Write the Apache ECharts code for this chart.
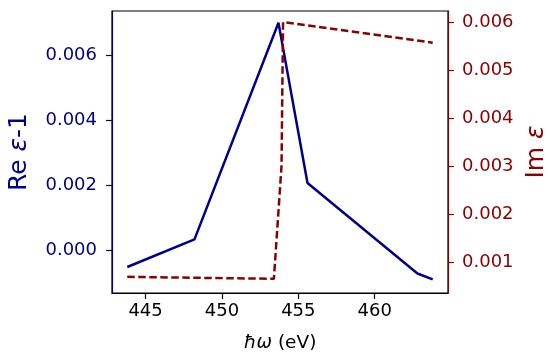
<!DOCTYPE html>
<html><head><meta charset="utf-8">
<script src="https://cdn.jsdelivr.net/npm/echarts@6/dist/echarts.min.js"></script>
<style>html,body{margin:0;padding:0;background:#fff}#c{width:550px;height:360px}</style>
</head><body><div id="c"></div>
<script>
// Re(eps)-1 series: [energy eV, value]
const reX = [443.8, 448.2, 453.7, 455.6, 462.8, 463.8];
const reY = [-0.00052, 0.00033, 0.00699, 0.00206, -0.00072, -0.00090];
// Im(eps) series
const imX = [443.8, 453.4, 453.9, 454.0, 463.8];
const imY = [0.00069, 0.00065, 0.00300, 0.00600, 0.00557];
const xTicks = [445, 450, 455, 460];
const reTicks = [0, 0.002, 0.004, 0.006];
const imTicks = [0.001, 0.002, 0.003, 0.004, 0.005, 0.006];

const BLUE = '#00008B', RED = '#8B0000';
const FONT = 'DejaVu Sans';
const chart = echarts.init(document.getElementById('c'));
chart.setOption({
  animation: false,
  grid: {left: 112, right: 102, top: 11, bottom: 67, show: true, borderColor: '#000', borderWidth: 1.2, backgroundColor: 'transparent', containLabel: false, outerBoundsMode: 'none'},
  xAxis: {
    type: 'value', min: 442.8, max: 464.8,
    name: '{i|ħω} (eV)', nameLocation: 'middle', nameGap: 41,
    nameTextStyle: {fontFamily: FONT, fontSize: 18.5, color: '#000',
      rich: {i: {fontFamily: FONT, fontSize: 18.5, fontStyle: 'italic', color: '#000'}}},
    axisLine: {show: true, onZero: false, lineStyle: {color: '#000', width: 1.2}},
    axisTick: {show: true, length: 6, lineStyle: {color: '#000', width: 1.2}, customValues: xTicks},
    axisLabel: {fontFamily: FONT, fontSize: 18, color: '#000', margin: 9, customValues: xTicks},
    splitLine: {show: false}
  },
  yAxis: [{
    type: 'value', min: -0.00132, max: 0.00735, position: 'left',
    name: 'Re {i|ε}-1', nameLocation: 'middle', nameGap: 80, nameRotate: 90,
    nameTextStyle: {fontFamily: FONT, fontSize: 25, color: BLUE,
      rich: {i: {fontFamily: FONT, fontSize: 25, fontStyle: 'italic', color: BLUE}}},
    axisLine: {show: true, onZero: false, lineStyle: {color: BLUE, width: 1.2}},
    axisTick: {show: true, length: 6, lineStyle: {color: BLUE, width: 1.2}, customValues: reTicks},
    axisLabel: {fontFamily: FONT, fontSize: 18, color: BLUE, margin: 15, customValues: reTicks, formatter: v => v.toFixed(3)},
    splitLine: {show: false}
  }, {
    type: 'value', min: 0.000354, max: 0.00623, position: 'right',
    name: 'Im {i|ε}', nameLocation: 'middle', nameGap: 71, nameRotate: 90,
    nameTextStyle: {fontFamily: FONT, fontSize: 25, color: RED,
      rich: {i: {fontFamily: FONT, fontSize: 25, fontStyle: 'italic', color: RED}}},
    axisLine: {show: true, onZero: false, lineStyle: {color: RED, width: 1.2}},
    axisTick: {show: true, length: 6, lineStyle: {color: RED, width: 1.2}, customValues: imTicks},
    axisLabel: {fontFamily: FONT, fontSize: 18, color: RED, margin: 14, customValues: imTicks, formatter: v => v.toFixed(3)},
    splitLine: {show: false}
  }],
  series: [{
    type: 'line', yAxisIndex: 0, showSymbol: false, symbol: 'none',
    data: reX.map((x, i) => [x, reY[i]]),
    lineStyle: {color: BLUE, width: 2.5}
  }, {
    type: 'line', yAxisIndex: 1, showSymbol: false, symbol: 'none',
    data: imX.map((x, i) => [x, imY[i]]),
    lineStyle: {color: RED, width: 2.5, type: [7.5, 3.5]}
  }]
});
</script></body></html>
